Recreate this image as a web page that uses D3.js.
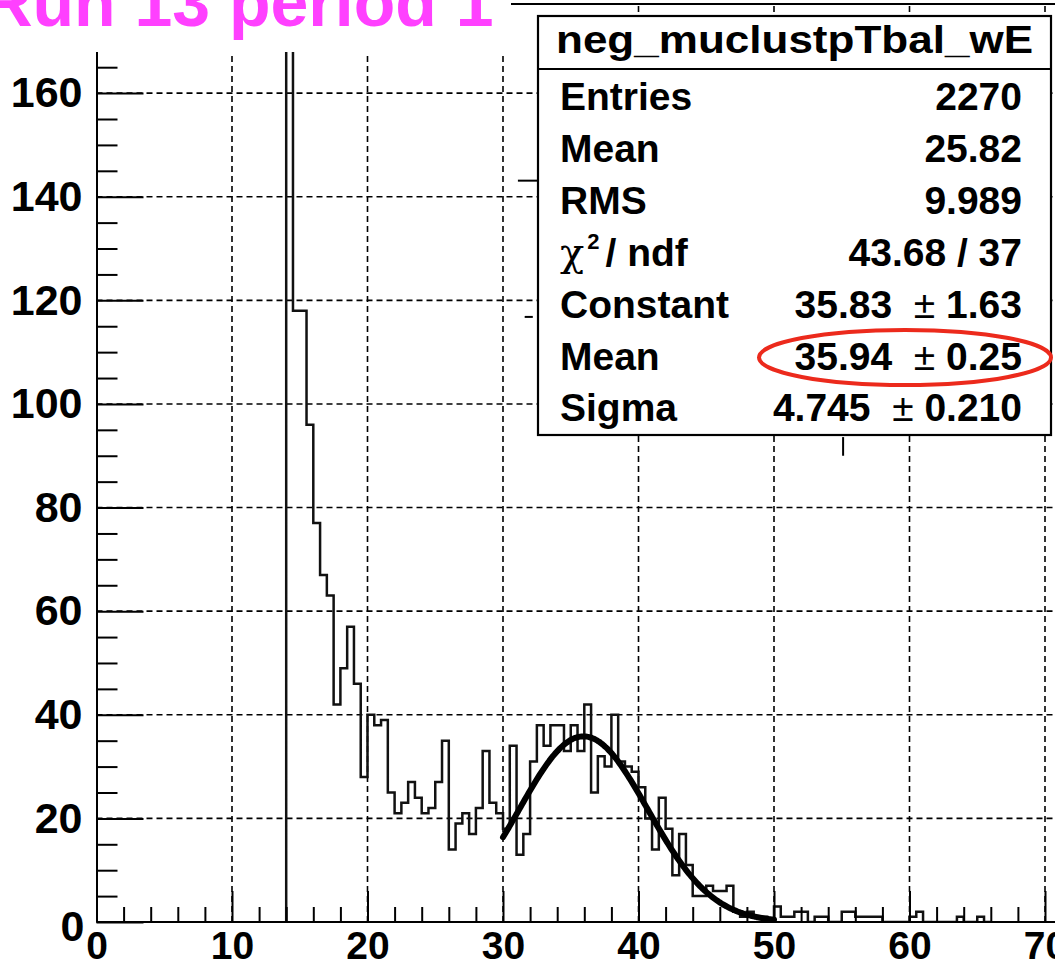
<!DOCTYPE html>
<html>
<head>
<meta charset="utf-8">
<script src="https://cdn.jsdelivr.net/npm/d3@7"></script>
<style>
body { margin: 0; background: #fff; }
svg { display: block; font-family: "Liberation Sans", Arial, Helvetica, sans-serif; font-weight: bold; }
.grid line { stroke: #000; stroke-width: 1.6; stroke-dasharray: 6 4; }
.axis path, .axis line { stroke: #000; stroke-width: 2; }
.axis text { fill: #000; font-family: "Liberation Sans", Arial, sans-serif; font-weight: bold; }
</style>
</head>
<body>
<svg id="chart" width="1055" height="967"></svg>
<script>
// histogram: bins of 0.5 starting at 14 (everything below is empty)
var binStart = 14;
var binWidth = 0.5;
var counts = [
    169, 118, 118, 96, 77, 67, 63, 42, 49, 57,   // 14.0 - 18.5
    46, 28, 40, 38, 39, 25, 21, 23, 27, 24,      // 19.0 - 23.5
    21, 22, 27, 35, 14, 19, 21, 17, 22, 33,      // 24.0 - 28.5
    23, 21, 18, 34, 13, 17, 31, 38, 34, 38,      // 29.0 - 33.5
    38, 33, 38, 33, 42, 25, 32, 30, 40, 31,      // 34.0 - 38.5
    30, 29, 26, 20, 14, 24, 18, 9, 17, 11,       // 39.0 - 43.5
    5, 5, 7, 6, 6, 7, 2, 1, 2, 1,                // 44.0 - 48.5
    1, 0, 3, 1, 1, 2, 2, 0, 1, 1,                // 49.0 - 53.5
    0, 0, 2, 2, 1, 1, 1, 1, 0, 0,                // 54.0 - 58.5
    0, 0, 1, 2, 0, 0, 0, 0, 0, 1,                // 59.0 - 63.5
    0, 0, 1, 0                                   // 64.0 - 65.5
];

var xMajor = [0, 10, 20, 30, 40, 50, 60, 70];
var yMajor = [0, 20, 40, 60, 80, 100, 120, 140, 160];

// gaussian fit, parameters as printed in the stats box
var fitConstant = 35.83, fitMean = 35.94, fitSigma = 4.745;
var fitRange = [30, 50];

var titleText = "Run 13 period 1";
var statsTitle = "neg_muclustpTbal_wE";
var statsLabels = ["Entries", "Mean", "RMS", "chi", "Constant", "Mean", "Sigma"];
var statsValues = ["2270", "25.82", "9.989", "43.68 / 37", "35.83", "35.94", "4.745"];
var statsErrors = [null, null, null, null, "1.63", "0.25", "0.210"];

// little leftover line pieces peeking out near the stats box
var fragments = [
    {x1: 31.1, x2: 32.7, y1: 143.1, y2: 143.1},
    {x1: 31.6, x2: 32.2, y1: 116.8, y2: 116.8},
    {x1: 55.1, x2: 55.1, y1: 93.6, y2: 90.0}
];

var svg = d3.select("#chart");
var W = 1055, H = 967;

var x = d3.scaleLinear().domain([0, 70]).range([96.5, 1045]);
var y = d3.scaleLinear().domain([0, 177.2]).range([922, 4]);
var right = W + 20;

svg.append("defs").append("clipPath").attr("id", "frame")
    .append("rect")
    .attr("x", x(0)).attr("y", y(177.2))
    .attr("width", right - x(0)).attr("height", y(0) - y(177.2));

// grid
var grid = svg.append("g").attr("class", "grid");
grid.selectAll(".gx").data(xMajor.filter(d => d > 0)).enter().append("line")
    .attr("x1", d => x(d)).attr("x2", d => x(d))
    .attr("y1", y(0)).attr("y2", y(177.2));
grid.selectAll(".gy").data(yMajor.filter(d => d > 0)).enter().append("line")
    .attr("x1", x(0)).attr("x2", right)
    .attr("y1", d => y(d)).attr("y2", d => y(d));

// histogram outline
var p = d3.path();
p.moveTo(x(binStart), y(0));
counts.forEach(function(c, i) {
    var x1 = binStart + (i + 1) * binWidth;
    p.lineTo(x(binStart + i * binWidth), y(c));
    p.lineTo(x(x1), y(c));
});
p.lineTo(x(binStart + counts.length * binWidth), y(0));

svg.append("path")
    .attr("d", p.toString())
    .attr("clip-path", "url(#frame)")
    .attr("fill", "none")
    .attr("stroke", "#111")
    .attr("stroke-width", 2.5);

// fit curve
var fitPts = d3.range(fitRange[0], fitRange[1] + 0.001, 0.1).map(function(v) {
    var z = (v - fitMean) / fitSigma;
    return [v, fitConstant * Math.exp(-0.5 * z * z)];
});
svg.append("path")
    .attr("d", d3.line().x(d => x(d[0])).y(d => y(d[1])).curve(d3.curveMonotoneX)(fitPts))
    .attr("fill", "none")
    .attr("stroke", "#000")
    .attr("stroke-width", 6)
    .attr("stroke-linecap", "round");

// frame top
svg.append("line")
    .attr("x1", x(0)).attr("x2", right)
    .attr("y1", y(177.2)).attr("y2", y(177.2))
    .attr("stroke", "#000").attr("stroke-width", 2);

// axes
var xAxis = svg.append("g").attr("class", "axis")
    .attr("transform", "translate(0," + y(0) + ")");
xAxis.call(d3.axisBottom(x).tickValues(xMajor).tickSizeInner(-31).tickSizeOuter(0)
    .tickPadding(9).tickFormat(d3.format("d")));
xAxis.select(".domain").attr("d", "M" + x(0) + ",0H" + right);
xAxis.selectAll("text").attr("font-size", 39);

var xMinor = svg.append("g").attr("class", "axis")
    .attr("transform", "translate(0," + y(0) + ")");
xMinor.call(d3.axisBottom(x).tickValues(d3.range(2, 78, 2).filter(d => d % 10 !== 0))
    .tickSizeInner(-15).tickSizeOuter(0).tickFormat(""));
xMinor.select(".domain").remove();

var yAxis = svg.append("g").attr("class", "axis")
    .attr("transform", "translate(" + x(0) + ",0)");
yAxis.call(d3.axisLeft(y).tickValues(yMajor).tickSizeInner(-47).tickSizeOuter(0)
    .tickPadding(14).tickFormat(d3.format("d")));
yAxis.selectAll("text").attr("font-size", 43);
yAxis.selectAll(".tick").filter(d => d === 0).select("text")
    .attr("x", -12).attr("dy", "0.42em");

var yMinor = svg.append("g").attr("class", "axis")
    .attr("transform", "translate(" + x(0) + ",0)");
yMinor.call(d3.axisLeft(y).tickValues(d3.range(5, 176, 5).filter(d => d % 20 !== 0))
    .tickSizeInner(-21).tickSizeOuter(0).tickFormat(""));
yMinor.select(".domain").remove();

// fragments
svg.selectAll(".frag").data(fragments).enter().append("line")
    .attr("x1", d => x(d.x1)).attr("x2", d => x(d.x2))
    .attr("y1", d => y(d.y1)).attr("y2", d => y(d.y2))
    .attr("stroke", "#000").attr("stroke-width", 2);

// stats box
var sb = {x: 538, y: 16, w: 513, h: 419, head: 53, rowTop: 110, rowStep: 51.9, lx: 560, rx: 1022};
var stats = svg.append("g");
stats.append("rect")
    .attr("x", sb.x).attr("y", sb.y).attr("width", sb.w).attr("height", sb.h)
    .attr("fill", "#fff").attr("stroke", "#000").attr("stroke-width", 2.2);
stats.append("line")
    .attr("x1", sb.x).attr("x2", sb.x + sb.w)
    .attr("y1", 69).attr("y2", 69)
    .attr("stroke", "#000").attr("stroke-width", 2);
stats.append("text")
    .attr("x", sb.x + sb.w / 2).attr("y", sb.head)
    .attr("text-anchor", "middle")
    .attr("font-size", 38)
    .attr("textLength", 477).attr("lengthAdjust", "spacingAndGlyphs")
    .text(statsTitle);

statsLabels.forEach(function(lab, i) {
    var by = sb.rowTop + i * sb.rowStep;
    var t = stats.append("text").attr("x", sb.lx).attr("y", by).attr("font-size", 39);
    if (lab === "chi") {
        t.append("tspan").attr("font-family", "DejaVu Serif, serif").attr("font-weight", "normal")
            .attr("font-size", 40).text("χ");
        t.append("tspan").attr("font-size", 22).attr("dy", -17).attr("dx", 3).text("2");
        t.append("tspan").attr("dy", 17).attr("dx", 6).text("/ ndf");
    } else {
        t.text(lab);
    }
    var v = stats.append("text").attr("x", sb.rx).attr("y", by)
        .attr("font-size", 39).attr("text-anchor", "end")
        .style("white-space", "pre");
    if (statsErrors[i]) {
        v.append("tspan").text(statsValues[i] + "  ");
        v.append("tspan").attr("font-weight", "normal").text("±");
        v.append("tspan").text(" " + statsErrors[i]);
    } else {
        v.text(statsValues[i]);
    }
});

// title pave
svg.append("rect").attr("x", 0).attr("y", 0).attr("width", 511).attr("height", 52).attr("fill", "#fff");
svg.append("text")
    .attr("x", -16.6).attr("y", 26)
    .attr("font-size", 68)
    .attr("fill", "#ff40ff")
    .text(titleText);

// red marker around the fitted mean
svg.append("ellipse")
    .attr("cx", 905).attr("cy", 357.5).attr("rx", 146).attr("ry", 27.5)
    .attr("fill", "none").attr("stroke", "#ec2a1c").attr("stroke-width", 4);
</script>
</body>
</html>
